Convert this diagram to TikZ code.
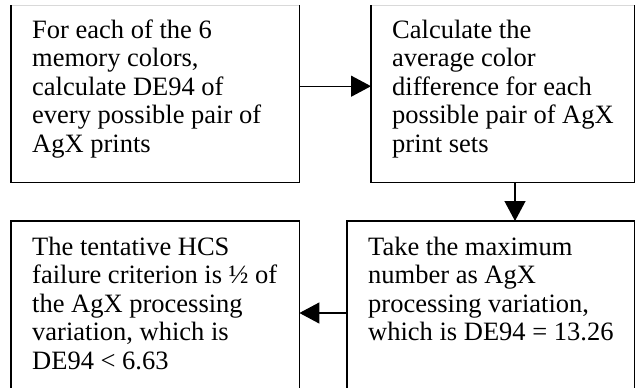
\documentclass[tikz,border=0pt]{standalone}
\usepackage{fontspec}
\setmainfont{Liberation Serif}
\usetikzlibrary{arrows.meta,calc}

\tikzset{
  stepbox/.style={draw=none, minimum width=#1, inner sep=0pt, anchor=north west},
  boxline/.style={line width=1.6pt, black},
  topline/.style={line width=1pt, black!15},
  % anchored at the baseline of the last line
  txt/.style={align=left, inner sep=0pt, anchor=base west,
    font=\fontsize{26.5pt}{28.6pt}\selectfont},
  conn/.style={line width=1.3pt, -{Triangle[length=20pt, width=21pt]}},
}

\begin{document}
\begin{tikzpicture}[x=1pt, y=1pt]
\useasboundingbox (0,0) rectangle (637,-388);
\fill[white] (0,0) rectangle (637,-388);
\clip (0,0) rectangle (637,-388);

% the four step boxes (the lower two run past the page bottom)
\node[stepbox=288pt, minimum height=177pt] (A) at (11,-5) {};
\node[stepbox=263pt, minimum height=177pt] (B) at (371,-5) {};
\node[stepbox=288pt, minimum height=190pt] (C) at (11,-221) {};
\node[stepbox=287pt, minimum height=190pt] (D) at (347,-221) {};

\foreach \b in {A,B} {
  \draw[topline] (\b.north west) -- (\b.north east);
  \draw[boxline] (\b.north west) -- (\b.south west) -- (\b.south east) -- (\b.north east);
}
\foreach \b in {C,D} {
  \draw[boxline] (\b.south west) -- (\b.north west) -- (\b.north east) -- (\b.south east);
}

% box texts
\node[txt] (tA) at (32,-152.4) {For each of the 6\\memory colors,\\calculate DE94 of\\every possible pair of\\AgX prints};
\node[txt] (tB) at (392,-152.4) {Calculate the\\average color\\difference for each\\possible pair of AgX\\print sets};
\node[txt] (tC) at (32,-369.4) {The tentative HCS\\failure criterion is ½ of\\the AgX processing\\variation, which is\\DE94 < 6.63};
\node[txt] (tD) at (368,-340.8) {Take the maximum\\number as AgX\\processing variation,\\which is DE94 = 13.26};

% connectors
\coordinate (m) at (515,0);
\coordinate (r) at (0,-313);
\draw[conn] ([yshift=7.5pt]A.east) -- ([yshift=7.5pt]B.west);
\draw[conn] (B.south -| m) -- (D.north -| m);
\draw[conn] (D.west |- r) -- (C.east |- r);
\end{tikzpicture}
\end{document}
